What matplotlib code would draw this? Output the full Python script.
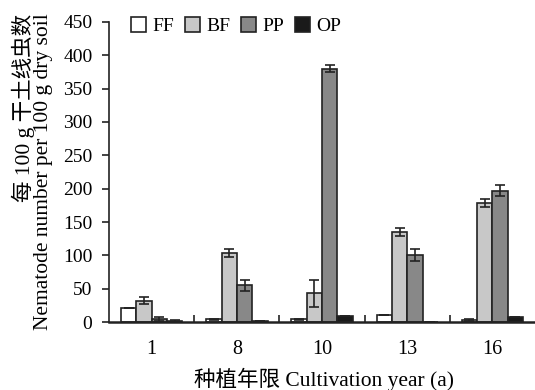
import numpy as np
import matplotlib
matplotlib.use("Agg")
import matplotlib.pyplot as plt

plt.rcParams['font.family'] = ['Liberation Serif', 'Noto Sans CJK SC']

years = ['1', '8', '10', '13', '16']
groups = ['FF', 'BF', 'PP', 'OP']
ff = [21, 4, 4, 10, 3]
ff_err = [0, 0.5, 1, 0, 2]
bf = [32, 103, 43, 135, 178]
bf_err = [5, 6, 20, 6, 6]
pp = [5, 55, 380, 101, 197]
pp_err = [3, 8, 5, 9, 8]
op = [2, 1, 9, 0, 7]
op_err = [1.5, 0, 0, 0, 0]

vals = [ff, bf, pp, op]
errs = [ff_err, bf_err, pp_err, op_err]
colors = ['white', '#c8c8c8', '#888888', '#1a1a1a']

fig = plt.figure(figsize=(5.35, 3.9), dpi=100)
ax = fig.add_axes([0.204, 0.174, 0.796, 0.77])

x = np.arange(len(years))
w = 0.18
offs = [-1.5 * w, -0.5 * w, 0.5 * w, 1.5 * w]
for v, e, c, o, g in zip(vals, errs, colors, offs, groups):
    ax.bar(x + o, v, w, color=c, edgecolor='#222222', linewidth=1.2, label=g,
           yerr=e, capsize=3.5, error_kw=dict(ecolor='#222222', elinewidth=1.2, capthick=1.2))

ax.set_xlim(-0.5, 4.5)
ax.set_ylim(0, 450)
ax.set_yticks(np.arange(0, 451, 50))
ax.set_xticks(x)
ax.set_xticklabels(years)
ax.set_xticks(np.arange(0.5, 4.5, 1), minor=True)
ax.tick_params(axis='x', which='major', length=0, labelsize=14.5, pad=13)
ax.tick_params(axis='x', which='minor', direction='in', length=5, width=1.2, color='#222222')
ax.tick_params(axis='y', direction='out', length=5, width=1.2, labelsize=14, color='#222222', pad=7)

for s in ['top', 'right']:
    ax.spines[s].set_visible(False)
ax.spines['left'].set_linewidth(1.2)
ax.spines['bottom'].set_linewidth(1.8)
ax.spines['left'].set_color('#222222')
ax.spines['bottom'].set_color('#222222')

# two-line y label, placed by hand
fig.text(0.043, 1 - 14 / 390, '每 100 g 干土线虫数', rotation=90, fontsize=15.5,
         ha='center', va='top')
fig.text(0.082, 1 - 172 / 390, 'Nematode number per 100 g dry soil', rotation=90, fontsize=15.5,
         ha='center', va='center')
fig.text(0.606, 1 - 379 / 390, '种植年限 Cultivation year (a)', fontsize=15.5,
         ha='center', va='center')

ax.legend(loc='upper left', ncol=4, frameon=False, fontsize=14, handlelength=0.75, handleheight=0.75,
          handletextpad=0.35, columnspacing=0.55, bbox_to_anchor=(0.02, 1.06), borderaxespad=0.3)

fig.savefig('out.png', dpi=100)
